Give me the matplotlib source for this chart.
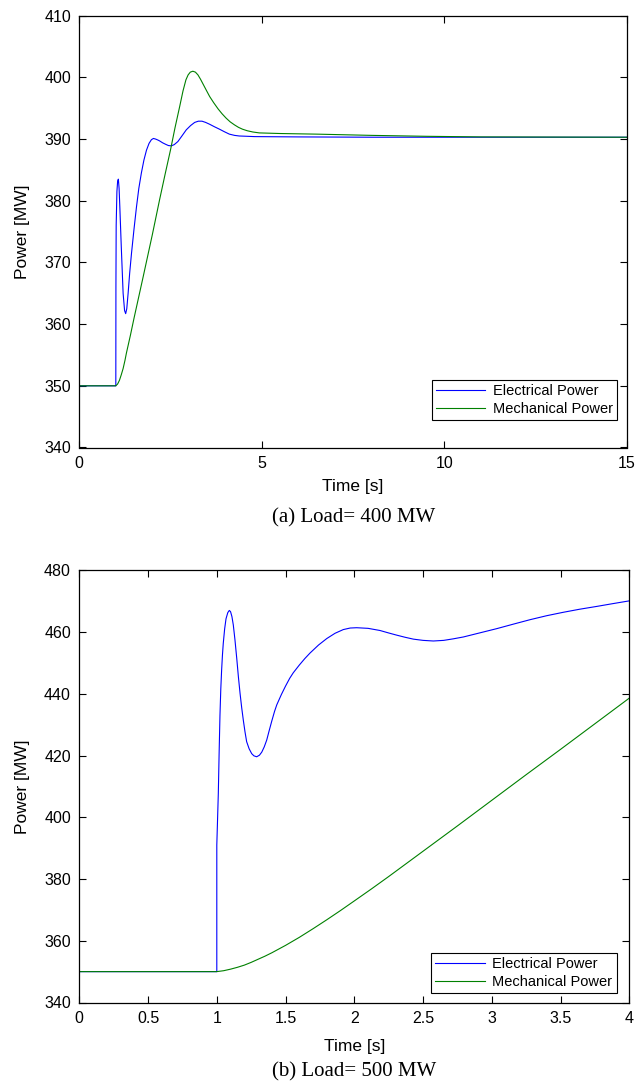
import matplotlib
matplotlib.use("Agg")
import matplotlib.pyplot as plt

plt.rcParams['font.family'] = ['Liberation Sans', 'DejaVu Sans']

# ---------------- Data: panel (a) Load = 400 MW ----------------
t_a_elec = [0.0, 1.0, 1.003, 1.01, 1.03, 1.05, 1.07, 1.09, 1.11, 1.15, 1.20, 1.24, 1.27,
            1.30, 1.337, 1.38, 1.43, 1.50, 1.566, 1.63, 1.70, 1.77, 1.84, 1.91, 1.975,
            2.03, 2.09, 2.15, 2.20, 2.28, 2.365, 2.44, 2.52, 2.60, 2.70, 2.81, 2.93,
            3.05, 3.16, 3.26, 3.36, 3.46, 3.57, 3.70, 3.84, 3.97, 4.11, 4.25, 4.38,
            4.6, 4.8, 6.0, 8.0, 10.0, 12.0, 15.0]
p_a_elec = [350.0, 350.0, 366.0, 376.0, 381.5, 383.2, 383.5, 382.0, 379.0, 372.5, 365.0, 362.2, 361.7,
            362.5, 365.0, 368.3, 371.5, 375.5, 379.0, 382.0, 384.5, 386.6, 388.2, 389.3, 389.9,
            390.1, 390.0, 389.85, 389.7, 389.4, 389.15, 388.95, 388.9, 389.1, 389.6, 390.5, 391.5,
            392.2, 392.7, 392.9, 392.9, 392.7, 392.4, 392.0, 391.6, 391.2, 390.8, 390.6, 390.5,
            390.45, 390.4, 390.35, 390.3, 390.3, 390.3, 390.3]

t_a_mech = [0.0, 1.0, 1.05, 1.1, 1.15, 1.2, 1.25, 1.29, 1.4, 1.5, 1.75, 2.0, 2.2, 2.35,
            2.5, 2.62, 2.75, 2.84, 2.92, 2.98, 3.04, 3.11, 3.18, 3.25, 3.32, 3.4, 3.48,
            3.57, 3.68, 3.8, 3.91, 4.02, 4.13, 4.25, 4.36, 4.47, 4.6, 4.75, 4.93, 5.5,
            6.5, 8.0, 9.5, 11.0, 15.0]
p_a_mech = [350.0, 350.0, 350.3, 350.9, 351.8, 352.8, 354.1, 355.3, 358.2, 361.0, 367.7, 374.5, 380.2, 384.3,
            388.3, 391.8, 395.3, 397.8, 399.6, 400.4, 400.85, 401.0, 400.85, 400.4, 399.7, 398.8, 397.9,
            396.9, 395.9, 394.9, 394.1, 393.4, 392.8, 392.3, 391.9, 391.6, 391.35, 391.15, 391.0, 390.9,
            390.8, 390.6, 390.45, 390.35, 390.3]

# ---------------- Data: panel (b) Load = 500 MW ----------------
t_b_elec = [0.0, 1.0, 1.0, 1.004, 1.011, 1.017, 1.023, 1.029, 1.035, 1.041, 1.047, 1.057, 1.067,
            1.08, 1.091, 1.10, 1.11, 1.12, 1.132, 1.145, 1.157, 1.169, 1.181, 1.193, 1.205,
            1.217, 1.235, 1.254, 1.27, 1.29, 1.31, 1.327, 1.345, 1.363, 1.38, 1.40, 1.42,
            1.436, 1.47, 1.50, 1.53, 1.556, 1.60, 1.64, 1.678, 1.74, 1.80, 1.86, 1.92, 1.97,
            2.017, 2.10, 2.187, 2.25, 2.308, 2.37, 2.43, 2.50, 2.575, 2.65, 2.72, 2.793,
            2.91, 3.036, 3.16, 3.278, 3.40, 3.52, 3.64, 3.763, 3.88, 4.0]
p_b_elec = [350.0, 350.0, 391.0, 397.0, 407.7, 421.0, 433.0, 441.5, 447.6, 452.5, 456.3, 461.0, 464.3,
            466.3, 467.0, 466.6, 465.0, 462.3, 457.5, 451.5, 445.5, 440.2, 435.5, 431.4, 427.7,
            424.5, 422.2, 420.6, 419.9, 419.6, 420.1, 421.1, 422.8, 425.0, 427.9, 431.2, 434.3,
            436.4, 439.8, 442.5, 445.0, 446.8, 449.3, 451.4, 453.2, 455.8, 457.9, 459.6, 460.8, 461.3,
            461.4, 461.2, 460.5, 459.7, 459.0, 458.3, 457.7, 457.3, 457.1, 457.3, 457.8, 458.4,
            459.7, 461.1, 462.6, 464.0, 465.3, 466.4, 467.4, 468.3, 469.2, 470.1]

t_b_mech = [0.0, 1.0, 1.05, 1.1, 1.15, 1.2, 1.25, 1.3, 1.35, 1.4, 1.5, 1.6, 1.7, 1.8,
            1.9, 2.0, 2.125, 2.25, 2.375, 2.5, 2.75, 3.0, 3.25, 3.5, 3.75, 4.0]
p_b_mech = [350.0, 350.0, 350.3, 350.8, 351.4, 352.1, 353.0, 354.0, 355.0, 356.1, 358.5, 361.1, 363.9, 366.8,
            369.8, 372.9, 376.8, 380.8, 384.9, 389.0, 397.2, 405.5, 413.8, 422.0, 430.3, 438.6]

xticks_a = [0, 5, 10, 15]
yticks_a = [340, 350, 360, 370, 380, 390, 400, 410]
xticks_b = [0, 0.5, 1, 1.5, 2, 2.5, 3, 3.5, 4]
xticklabels_b = ["0", "0.5", "1", "1.5", "2", "2.5", "3", "3.5", "4"]
yticks_b = [340, 360, 380, 400, 420, 440, 460, 480]

series_labels = ["Electrical Power", "Mechanical Power"]
captions = ["(a) Load= 400 MW", "(b) Load= 500 MW"]

ELEC = (0.0, 0.0, 1.0)
MECH = (0.0, 0.5, 0.0)

W, H = 640, 1084
fig = plt.figure(figsize=(W / 100, H / 100), dpi=100)

ax_a = fig.add_axes([79.3 / W, 1 - 447.5 / H, (627.0 - 79.3) / W, (447.5 - 15.7) / H])
ax_b = fig.add_axes([79.3 / W, 1 - 1002.5 / H, (629.3 - 79.3) / W, (1002.5 - 570.3) / H])


def style(ax, xticks, yticks, xlim, ylim, xfmt=None):
    ax.set_xlim(*xlim)
    ax.set_ylim(*ylim)
    ax.set_xticks(xticks)
    ax.set_yticks(yticks)
    if xfmt is not None:
        ax.set_xticklabels(xfmt)
    ax.tick_params(direction='in', top=True, right=True, length=5, width=0.8,
                   labelsize=11.5, pad=6, colors='black')
    for s in ax.spines.values():
        s.set_linewidth(0.9)
        s.set_color('black')
    ax.set_ylabel("Power [MW]", fontsize=12.5, labelpad=8)
    ax.set_xlabel("Time [s]", fontsize=12.5)


ax_a.plot(t_a_elec, p_a_elec, color=ELEC, lw=0.8, label=series_labels[0])
ax_a.plot(t_a_mech, p_a_mech, color=MECH, lw=0.8, label=series_labels[1])
style(ax_a, xticks_a, yticks_a, (0, 15), (340, 410))
ax_a.xaxis.set_label_coords(0.5, -(487 - 447.5) / 431.8)
ax_a.xaxis.label.set_va('center')
ax_a.yaxis.set_label_coords(-(79.3 - 22.7) / 547.7, 0.5)
ax_a.yaxis.label.set_va('center')

ax_b.plot(t_b_elec, p_b_elec, color=ELEC, lw=0.8, label=series_labels[0])
ax_b.plot(t_b_mech, p_b_mech, color=MECH, lw=0.8, label=series_labels[1])
style(ax_b, xticks_b, yticks_b, (0, 4), (340, 480), xfmt=xticklabels_b)
ax_b.xaxis.set_label_coords(0.5, -(1046 - 1002.5) / 432.2)
ax_b.xaxis.label.set_va('center')
ax_b.yaxis.set_label_coords(-(79.3 - 22.7) / 550.0, 0.5)
ax_b.yaxis.label.set_va('center')

leg_kw = dict(loc='lower right', fontsize=10.5, fancybox=False, framealpha=1,
              edgecolor='black', handlelength=3.4, handletextpad=0.5,
              labelspacing=0.25, borderpad=0.3, borderaxespad=0.0)
la = ax_a.legend(bbox_to_anchor=(0.982, 0.0637), **leg_kw)
lb = ax_b.legend(bbox_to_anchor=(0.977, 0.0213), **leg_kw)
for lg in (la, lb):
    lg.get_frame().set_linewidth(0.8)

fig.text((79.3 + 627.0) / 2 / W, 1 - 518 / H, captions[0], ha='center', va='center',
         fontsize=15, family=['Liberation Serif', 'DejaVu Serif'])
fig.text((79.3 + 629.3) / 2 / W, 1 - 1072 / H, captions[1], ha='center', va='center',
         fontsize=15, family=['Liberation Serif', 'DejaVu Serif'])

fig.savefig("out.png", dpi=100)
